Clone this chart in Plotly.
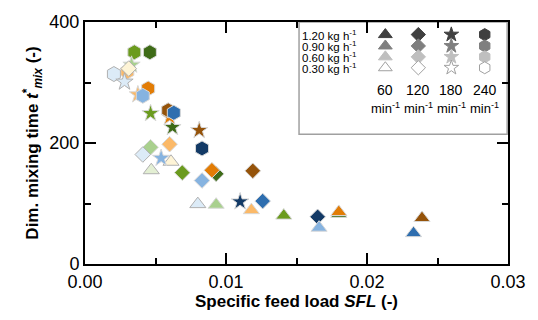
import plotly.graph_objects as go

# ---------------- data ----------------
# feed rate in kg/h, rotational speed in 1/min
green_sfl   = [0.0035, 0.0046, 0.0033, 0.00465, 0.0062, 0.00465, 0.0069, 0.0093, 0.0047, 0.0093, 0.0141, 0.0180]
green_tmix  = [350, 350, 329, 249, 226, 193, 151, 149, 155, 98, 80, 83]
green_feed  = [0.90, 1.20, 0.60, 0.90, 1.20, 0.60, 0.90, 1.20, 0.30, 0.60, 0.90, 1.20]
green_speed = [240, 240, 180, 180, 180, 120, 120, 120, 60, 60, 60, 60]

orange_sfl   = [0.0030, 0.0031, 0.00375, 0.0060, 0.00448, 0.0059, 0.0081, 0.0060, 0.0061, 0.0090, 0.0119, 0.0118, 0.0180, 0.0239]
orange_tmix  = [318, 323, 280, 243, 290, 254, 221, 198, 169, 155, 154, 89, 86, 76]
orange_feed  = [0.60, 0.30, 0.60, 0.90, 0.90, 1.20, 1.20, 0.60, 0.30, 0.90, 1.20, 0.60, 0.90, 1.20]
orange_speed = [240, 120, 180, 180, 240, 240, 180, 120, 60, 120, 120, 60, 60, 60]

blue_sfl   = [0.00205, 0.0028, 0.0041, 0.0063, 0.0083, 0.0041, 0.0054, 0.0083, 0.0080, 0.0110, 0.0126, 0.0165, 0.0166, 0.0233]
blue_tmix  = [314, 301, 278, 250, 191, 181, 175, 138, 99, 103, 104, 78, 60, 51]
blue_feed  = [0.30, 0.30, 0.60, 0.90, 1.20, 0.30, 0.60, 0.60, 0.30, 1.20, 0.90, 1.20, 0.60, 0.90]
blue_speed = [240, 180, 240, 240, 240, 120, 180, 120, 60, 180, 120, 120, 60, 60]

legend_feeds  = [1.20, 0.90, 0.60, 0.30]
legend_speeds = [60, 120, 180, 240]

# ---------------- styles ----------------
FONT = "Liberation Sans, Arial, sans-serif"
symbols = {60: "triangle-up", 120: "diamond", 180: "star", 240: "hexagon"}
sizes = {60: 14, 120: 12, 180: 13, 240: 15}
palettes = {
    "green":  {0.30: "#e3efd3", 0.60: "#a9d08e", 0.90: "#6b9b1e", 1.20: "#3e6b17"},
    "orange": {0.30: "#fef4d6", 0.60: "#fbb968", 0.90: "#e27c05", 1.20: "#95530a"},
    "blue":   {0.30: "#dcebf7", 0.60: "#86b3e0", 0.90: "#2e6eaf", 1.20: "#133a66"},
}
gray = {1.20: "#404040", 0.90: "#7f7f7f", 0.60: "#bfbfbf", 0.30: "#ffffff"}

fig = go.Figure()

for name, sfl, tmix, feed, speed in [
    ("green", green_sfl, green_tmix, green_feed, green_speed),
    ("orange", orange_sfl, orange_tmix, orange_feed, orange_speed),
    ("blue", blue_sfl, blue_tmix, blue_feed, blue_speed),
]:
    pal = palettes[name]
    fig.add_trace(go.Scatter(
        x=sfl, y=tmix, mode="markers", showlegend=False, hoverinfo="skip",
        marker=dict(
            symbol=[symbols[s] for s in speed],
            size=[sizes[s] for s in speed],
            color=[pal[f] for f in feed],
            opacity=1,
            line=dict(color=["#b0b0b0" if f == 0.30 else "#d8d8d8" for f in feed], width=1),
        ),
    ))

# ---------------- custom legend (grid) ----------------
col_x = [0.710, 0.788, 0.866, 0.945]
row_y = [0.948, 0.901, 0.856, 0.811]
leg_sizes = {60: 12, 120: 11, 180: 11, 240: 12}
lx, ly, lsym, lsize, lcol, lline = [], [], [], [], [], []
for i, f in enumerate(legend_feeds):
    for j, s in enumerate(legend_speeds):
        lx.append(col_x[j]); ly.append(row_y[i])
        lsym.append(symbols[s]); lsize.append(leg_sizes[s])
        lcol.append(gray[f])
        lline.append("#a0a0a0" if f == 0.30 else gray[f])
fig.add_trace(go.Scatter(
    x=lx, y=ly, xaxis="x2", yaxis="y2", mode="markers", showlegend=False, hoverinfo="skip",
    marker=dict(symbol=lsym, size=lsize, color=lcol, opacity=1, line=dict(color=lline, width=1)),
))

annotations = []
for i, f in enumerate(legend_feeds):
    annotations.append(dict(
        xref="paper", yref="paper", x=0.510, y=row_y[i], xanchor="left", yanchor="middle",
        text=f"{f:.2f} kg h<sup>-1</sup>", showarrow=False, borderpad=0,
        font=dict(family=FONT, size=11.5, color="#000"),
    ))
for j, s in enumerate(legend_speeds):
    annotations.append(dict(
        xref="paper", yref="paper", x=col_x[j], y=0.721, xanchor="center", yanchor="middle",
        text=str(s), showarrow=False, font=dict(family=FONT, size=14, color="#000"),
    ))
    annotations.append(dict(
        xref="paper", yref="paper", x=col_x[j], y=0.644, xanchor="center", yanchor="middle",
        text="min<sup>-1</sup>", showarrow=False, font=dict(family=FONT, size=13, color="#000"),
    ))

fig.add_shape(type="rect", xref="paper", yref="paper", x0=0.506, x1=0.998, y0=0.536, y1=1.0,
              line=dict(color="#a0a0a0", width=1.5), fillcolor="white", layer="below")

axis_common = dict(
    showline=True, linecolor="black", linewidth=2, mirror="ticks",
    ticks="inside", ticklen=11, tickwidth=2, tickcolor="black",
    showgrid=False, zeroline=False,
    tickfont=dict(family=FONT, size=18, color="#000"),
)

fig.update_layout(
    width=538, height=320,
    margin=dict(l=85, r=28, t=20, b=56),
    paper_bgcolor="white", plot_bgcolor="white",
    font=dict(family=FONT, color="#000"),
    xaxis=dict(
        range=[0, 0.03], tickvals=[0, 0.01, 0.02, 0.03], ticktext=["0.00", "0.01", "0.02", "0.03"],
        minor=dict(ticks="inside", ticklen=6, tickwidth=2, tickcolor="black", dtick=0.005),
        title=dict(text="<b>Specific feed load <i>SFL</i> (-)</b>", font=dict(family=FONT, size=17), standoff=4),
        **axis_common,
    ),
    yaxis=dict(
        range=[0, 400], tickvals=[0, 200, 400],
        minor=dict(ticks="inside", ticklen=6, tickwidth=2, tickcolor="black", dtick=100),
        title=dict(text="<b>Dim. mixing time <i>t</i><sup>*</sup><sub><i>mix</i></sub> (-)</b>",
                   font=dict(family=FONT, size=17), standoff=6),
        **axis_common,
    ),
    xaxis2=dict(overlaying="x", range=[0, 1], visible=False),
    yaxis2=dict(overlaying="y", range=[0, 1], visible=False),
    annotations=annotations,
)

fig.write_html("out.html")
